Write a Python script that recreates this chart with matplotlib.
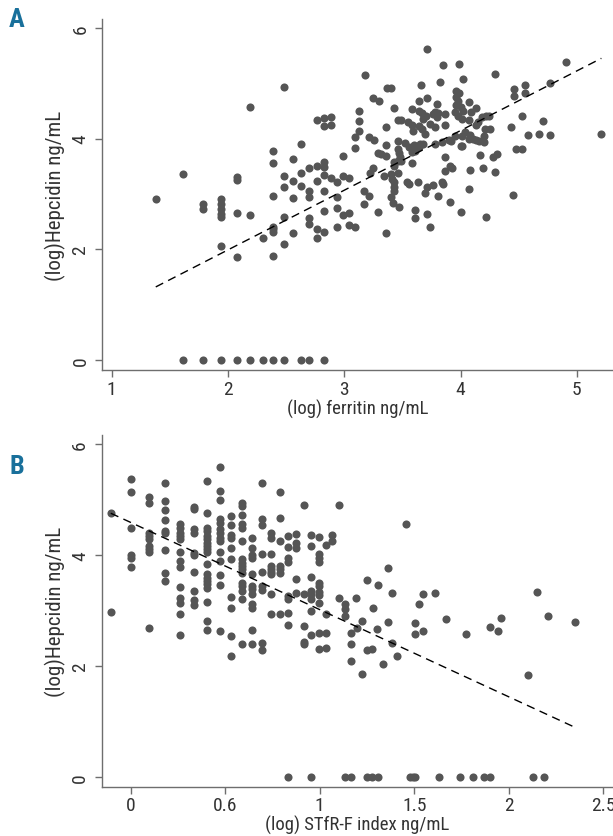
import numpy as np
import matplotlib
matplotlib.use("Agg")
import matplotlib.pyplot as plt

plt.rcParams['font.family'] = ['Roboto Condensed', 'Liberation Sans Narrow', 'Roboto', 'DejaVu Sans']

# panel A: (log) ferritin vs (log) hepcidin
panel_a_points = [
    (2.48, 4.93), (2.19, 4.57), (2.77, 4.34), (2.83, 4.37), (2.89, 4.39), (2.83, 4.22), (2.89, 4.24),
    (3.13, 4.50), (3.13, 4.32), (3.13, 4.14), (3.09, 4.03), (3.09, 3.83), (2.99, 3.69), (2.63, 3.90),
    (2.39, 3.78), (2.39, 3.56), (2.56, 3.63), (1.61, 3.36), (2.08, 3.31), (2.08, 3.25), (2.48, 3.33),
    (2.48, 3.13), (2.56, 3.24), (2.63, 3.37), (2.63, 3.14), (2.70, 3.47), (2.77, 3.51), (2.83, 3.57),
    (2.83, 3.48), (2.77, 3.24), (2.83, 3.35), (2.89, 3.29), (2.94, 3.22), (2.99, 3.33), (3.04, 3.29),
    (2.70, 3.06), (2.83, 3.05), (1.38, 2.90), (1.94, 2.91), (2.39, 2.97), (2.56, 2.92), (2.70, 2.94),
    (2.94, 2.94),
    (1.79, 2.82), (1.79, 2.72), (1.94, 2.82), (1.94, 2.73), (1.94, 2.64), (1.94, 2.59), (1.94, 2.05),
    (2.08, 2.65), (2.19, 2.62), (2.08, 1.86), (2.39, 2.41), (2.39, 2.36), (2.39, 2.32), (2.39, 1.87),
    (2.30, 2.20), (2.48, 2.59), (2.48, 2.09), (2.56, 2.29), (2.70, 2.56), (2.70, 2.46), (2.77, 2.36),
    (2.77, 2.20), (2.83, 2.69), (2.83, 2.32), (2.94, 2.74), (2.94, 2.41), (2.99, 2.62), (3.04, 2.65),
    (3.04, 2.43), (3.09, 2.41),
    (3.17, 3.06), (3.21, 2.97), (3.17, 2.82), (3.29, 2.67), (3.36, 2.29), (3.40, 2.95), (3.42, 2.83),
    (3.47, 2.76), (3.54, 3.21), (3.56, 3.18), (3.63, 3.22), (3.61, 2.71), (3.61, 2.56), (3.69, 3.01),
    (3.71, 3.12), (3.76, 3.16), (3.71, 2.64), (3.74, 2.40), (3.81, 2.96), (3.84, 3.22), (3.85, 3.18),
    (3.91, 2.85), (4.00, 2.67), (4.07, 3.09), (4.22, 2.58), (4.45, 2.98),
    (3.71, 5.61), (3.85, 5.33), (3.99, 5.34), (3.18, 5.15), (4.30, 5.17), (4.91, 5.39), (4.02, 5.07),
    (3.82, 5.02), (3.66, 4.96), (3.37, 4.92), (3.40, 4.91), (4.46, 4.89), (4.55, 4.96), (4.77, 5.00),
    (4.46, 4.77), (4.55, 4.82), (3.25, 4.73), (3.30, 4.67), (3.64, 4.68), (3.71, 4.73), (3.43, 4.56),
    (3.96, 4.85), (3.99, 4.82), (3.96, 4.75), (3.98, 4.68), (3.96, 4.60), (4.00, 4.57), (4.02, 4.50),
    (4.07, 4.66), (4.13, 4.56), (4.09, 4.48), (3.95, 4.47), (3.98, 4.41), (4.01, 4.35), (4.07, 4.34),
    (3.80, 4.62), (3.58, 4.53), (3.64, 4.50), (3.67, 4.46), (3.70, 4.40), (3.76, 4.45), (3.78, 4.48),
    (3.81, 4.46), (3.87, 4.44), (3.68, 4.35), (3.80, 4.38), (3.46, 4.34), (3.49, 4.34), (3.55, 4.29),
    (3.58, 4.24), (3.64, 4.22), (3.74, 4.26), (3.78, 4.20), (3.87, 4.25), (3.36, 4.20), (3.69, 4.08),
    (3.59, 4.14), (3.67, 4.17), (4.18, 4.38), (4.22, 4.40), (4.24, 4.41), (4.15, 4.29), (4.13, 4.24),
    (4.21, 4.17), (4.25, 4.18), (4.04, 4.11), (4.08, 4.06), (4.11, 4.00), (4.16, 3.96), (4.20, 3.93),
    (3.95, 4.05), (4.01, 4.04), (4.07, 3.99), (4.13, 3.98), (4.20, 4.05), (3.92, 3.96), (4.00, 3.87),
    (3.78, 3.90), (3.84, 3.93), (3.90, 3.98), (3.60, 3.88), (3.65, 3.90), (3.68, 3.90), (3.56, 3.84),
    (3.61, 3.82), (3.64, 3.85), (3.46, 3.95), (3.52, 3.92), (3.21, 4.02), (3.26, 3.98), (3.36, 3.88),
    (3.29, 3.74), (3.32, 3.72), (3.36, 3.68), (3.46, 3.81), (3.47, 3.74), (3.48, 3.66), (3.46, 3.60),
    (3.43, 3.58), (3.43, 3.51), (3.49, 3.60), (3.58, 3.75), (3.61, 3.78), (3.58, 3.56), (3.87, 3.66),
    (4.01, 3.86), (4.17, 3.70), (4.28, 3.66), (4.31, 3.72), (4.43, 4.21), (4.53, 4.40), (4.71, 4.31),
    (4.58, 4.07), (4.67, 4.08), (4.77, 4.07), (5.21, 4.09), (4.48, 3.81), (4.53, 3.81), (3.91, 3.51),
    (3.93, 3.47), (3.87, 3.42), (4.08, 3.43), (4.19, 3.47), (4.30, 3.40), (3.22, 3.38), (3.25, 3.46),
    (3.34, 3.33), (3.40, 3.36), (3.46, 3.38), (3.41, 3.27), (3.43, 3.21), (3.43, 3.12), (3.43, 3.06),
]
panel_a_zero_x = [1.61, 1.79, 1.94, 2.08, 2.19, 2.30, 2.39, 2.48, 2.63, 2.70, 2.83]
fit_a = (-0.168, 1.078)  # intercept, slope of dashed line

# panel B: (log) sTfR-F index vs (log) hepcidin, grouped by x column
panel_b_columns = {
    -0.106: [4.76, 2.98],
    0.000: [5.37, 5.15, 4.49, 4.00, 3.96, 3.79],
    0.094: [5.06, 4.95, 4.40, 4.35, 4.30, 4.17, 4.11, 4.07, 2.70],
    0.182: [5.31, 4.98, 4.81, 4.64, 4.44, 4.40, 4.10, 3.69, 3.54],
    0.262: [4.56, 4.49, 4.40, 4.35, 4.29, 4.06, 3.90, 3.80, 3.44, 3.24, 3.15, 2.94, 2.57],
    0.336: [4.88, 4.83, 4.47, 4.41, 4.05, 4.01, 3.70, 3.36, 3.20, 3.11],
    0.405: [5.34, 4.76, 4.50, 4.44, 4.35, 4.29, 4.23, 4.17, 4.11, 4.06, 3.84, 3.66, 3.60, 3.54,
            3.48, 3.42, 3.17, 2.82, 2.66],
    0.470: [5.60, 5.16, 5.00, 4.65, 4.59, 4.47, 4.41, 4.32, 4.26, 4.06, 3.90, 3.65, 3.47, 2.63],
    0.530: [4.71, 4.55, 4.36, 4.32, 4.14, 3.93, 3.25, 3.05, 2.55, 2.19],
    0.589: [4.95, 4.89, 4.72, 4.56, 4.49, 4.26, 3.93, 3.87, 3.81, 3.75, 3.69, 3.51, 3.45, 3.36,
            3.21, 2.40],
    0.642: [4.31, 4.14, 4.00, 3.95, 3.66, 3.45, 3.40, 3.30, 3.12, 3.06, 2.66, 2.40],
    0.695: [5.31, 4.65, 4.55, 4.02, 3.71, 3.45, 3.38, 2.42, 2.30],
    0.743: [4.41, 4.31, 4.02, 3.81, 3.75, 3.70, 3.66, 3.30, 2.94],
    0.789: [5.14, 4.67, 4.26, 3.81, 3.75, 3.69, 2.94],
    0.833: [4.35, 4.16, 3.96, 3.88, 3.27, 3.21, 2.97, 2.74],
    0.875: [4.38, 4.22, 4.14, 3.57, 3.33],
    0.916: [4.91, 3.30, 2.73, 2.44, 2.40],
    0.955: [4.37, 4.17, 3.62, 3.36, 3.30, 3.21, 3.00, 2.56],
    0.995: [4.34, 4.02, 3.96, 3.88, 3.50, 3.45, 3.35, 3.29, 3.15, 2.61, 2.32],
    1.031: [4.18, 2.94, 2.61, 2.34],
    1.066: [4.36, 4.26],
    1.101: [4.91, 3.23],
    1.133: [3.12, 3.03, 2.91],
    1.163: [2.60, 2.40, 2.09],
    1.190: [3.24],
}
panel_b_points = [
    (1.195, 2.69), (1.222, 2.82), (1.222, 1.86), (1.252, 2.30), (1.278, 2.32), (1.305, 2.67),
    (1.335, 2.04), (1.361, 2.81), (1.384, 2.42), (1.411, 2.19), (1.505, 2.78), (1.505, 2.58),
    (1.549, 2.63), (1.773, 2.58), (1.903, 2.72), (1.945, 2.64), (2.104, 1.85), (2.352, 2.81),
    (1.459, 4.56), (1.361, 3.77), (1.252, 3.56), (1.308, 3.47), (1.385, 3.32), (1.547, 3.30),
    (1.611, 3.33), (1.526, 3.12), (1.280, 3.05), (2.152, 3.35), (2.209, 2.91), (1.959, 2.88),
    (1.667, 2.85),
]
panel_b_zero_x = [0.833, 0.955, 1.132, 1.163, 1.252, 1.278, 1.308, 1.476, 1.491, 1.505, 1.629,
                  1.742, 1.809, 1.867, 1.903, 2.129, 2.186]
fit_b = (4.594, -1.570)
b_ticks = [0, 0.5, 1, 1.5, 2, 2.5]
b_ticklabels = ['0', '0.6', '1', '1.5', '2', '2.5']

dot = '#555555'
spine = '#6e6e6e'
txt = '#333333'

fig = plt.figure(figsize=(6.13, 8.37), dpi=100)
axA = fig.add_axes([0.1664, 0.5568, 0.8336, 0.4194])
axB = fig.add_axes([0.1659, 0.0589, 0.8341, 0.4202])


def style(ax):
    for s in ['top', 'right']:
        ax.spines[s].set_visible(False)
    for s in ['left', 'bottom']:
        ax.spines[s].set_color(spine)
        ax.spines[s].set_linewidth(1.0)
    ax.tick_params(direction='out', length=5, width=1, color=spine, labelcolor=txt,
                   labelsize=14)
    ax.tick_params(axis='y', pad=4)
    ax.tick_params(axis='x', pad=2)
    for lab in ax.get_yticklabels():
        lab.set_rotation(90)
        lab.set_va('center')
    ax.set_ylabel('(log)Hepcidin ng/mL', fontsize=15, color=txt, labelpad=4)


# ---- A ----
pa = np.array(panel_a_points)
xa = np.concatenate([pa[:, 0], panel_a_zero_x])
ya = np.concatenate([pa[:, 1], np.zeros(len(panel_a_zero_x))])
axA.scatter(xa, ya, s=34, color=dot, linewidths=0, zorder=3)
lx = np.array([xa.min(), xa.max()])
axA.plot(lx, fit_a[0] + fit_a[1] * lx, color='black', lw=1.0, dashes=(6, 4), zorder=4)
axA.set_xlim(0.918, 5.31)
axA.set_ylim(-0.18, 6.16)
axA.set_xticks([1, 2, 3, 4, 5])
axA.set_yticks([0, 2, 4, 6])
style(axA)
axA.set_xlabel('(log) ferritin ng/mL', fontsize=13.5, color=txt, labelpad=1)

# ---- B ----
xb = [x for x, ys in panel_b_columns.items() for _ in ys]
yb = [y for ys in panel_b_columns.values() for y in ys]
pb = np.array(panel_b_points)
xb = np.concatenate([xb, pb[:, 0], panel_b_zero_x])
yb = np.concatenate([yb, pb[:, 1], np.zeros(len(panel_b_zero_x))])
axB.scatter(xb, yb, s=34, color=dot, linewidths=0, zorder=3)
lx = np.array([xb.min(), xb.max()])
axB.plot(lx, fit_b[0] + fit_b[1] * lx, color='black', lw=1.0, dashes=(6, 4), zorder=4)
axB.set_xlim(-0.154, 2.552)
axB.set_ylim(-0.166, 6.17)
axB.set_xticks(b_ticks)
axB.set_xticklabels(b_ticklabels)
axB.set_yticks([0, 2, 4, 6])
style(axB)
axB.set_xlabel('(log) STfR-F index ng/mL', fontsize=13.5, color=txt, labelpad=0)

fig.text(17 / 613, 1 - 20 / 837, 'A', fontsize=19, fontweight='bold', color='#19709b',
         ha='center', va='center')
fig.text(17 / 613, 1 - 467 / 837, 'B', fontsize=19, fontweight='bold', color='#19709b',
         ha='center', va='center')

fig.savefig('out.png', dpi=100)
